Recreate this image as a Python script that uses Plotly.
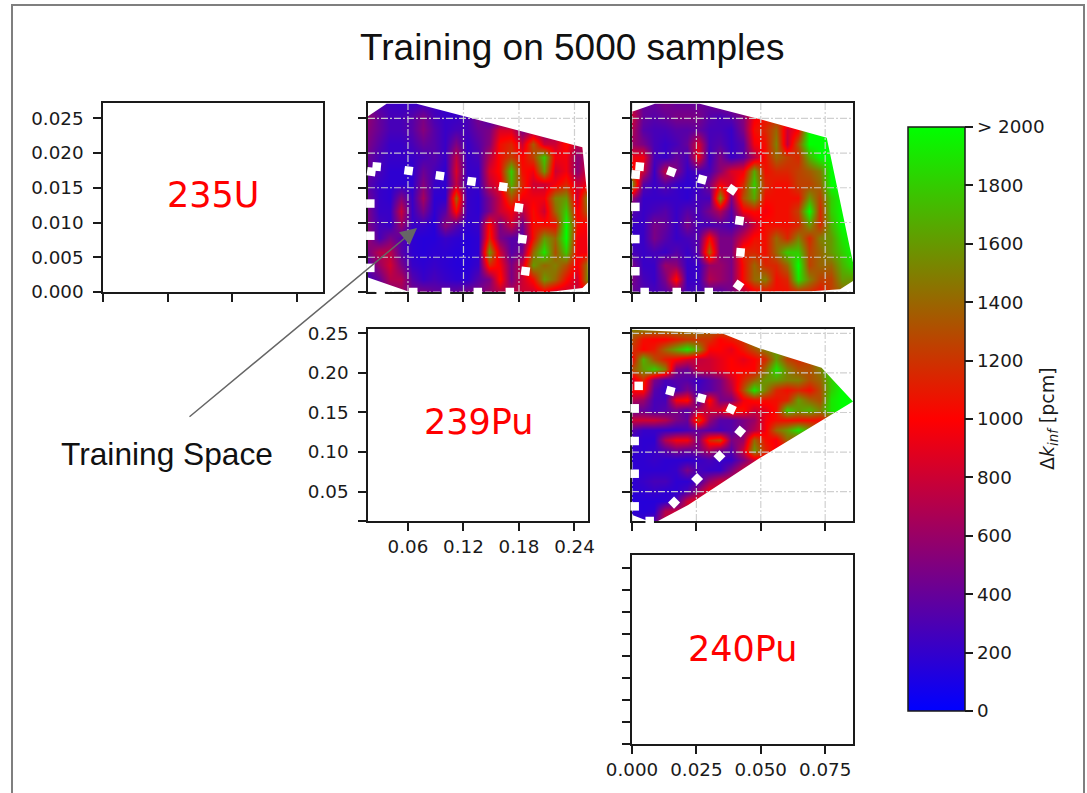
import numpy as np
import plotly.graph_objects as go

W, H = 1087, 793
FONT = "DejaVu Sans"
INK = "#1a1a1a"

# ---------- data ----------
pu239_range = [0.0168, 0.2546]
u235_range = [0.0, 0.0272]
pu240_range = [0.0, 0.0858]
pu239_y_range = [0.013, 0.2554]

pu239_ticks = [0.06, 0.12, 0.18, 0.24]
pu240_ticks = [0.0, 0.025, 0.05, 0.075]
u235_ticks = [0.0, 0.005, 0.01, 0.015, 0.02, 0.025]
u235_labels = ["0.000", "0.005", "0.010", "0.015", "0.020", "0.025"]
pu239_y_ticks = [0.05, 0.10, 0.15, 0.20, 0.25]
u235_x_ticks = [0.0, 0.008, 0.016, 0.024]
pu240_y_ticks = [0.0, 0.01, 0.02, 0.03, 0.04, 0.05, 0.06, 0.07, 0.08]

cbar_ticks = [0, 200, 400, 600, 800, 1000, 1200, 1400, 1600, 1800, 2000]
cbar_labels = ["0", "200", "400", "600", "800", "1000", "1200", "1400", "1600", "1800", "> 2000"]

# rows listed from the top of each panel downward
z_u235_pu239 = [
    [420,300,240,220,220,240,240,200,200,200,200,200,200,240,340,450,600,700,800,800,800],
    [560,400,280,280,340,480,280,220,220,280,480,280,220,220,280,400,550,700,800,800,800],
    [520,400,280,280,340,520,340,220,280,280,400,480,850,850,480,620,500,620,800,950,800],
    [480,340,220,220,280,400,340,220,500,220,340,520,1050,1150,800,1350,800,800,1050,700,950],
    [420,280,220,220,220,280,340,220,750,220,280,700,1050,1250,1000,1250,1800,950,950,550,700],
    [420,280,180,180,180,420,280,180,850,220,220,850,1050,1800,1050,950,1600,800,950,550,850],
    [340,220,180,180,180,520,220,180,750,220,220,750,950,1700,1150,800,800,950,1150,800,950],
    [420,220,180,520,220,650,180,180,1400,220,180,480,800,1300,950,950,950,1500,1600,800,1600],
    [480,220,220,780,220,480,180,340,1050,220,180,480,800,950,700,1050,800,1400,1800,950,1400],
    [480,280,220,600,220,220,150,550,340,180,220,1050,480,800,420,1050,1050,1050,2000,1050,950],
    [600,280,480,340,180,150,150,220,180,150,180,1150,480,340,340,1050,1600,1400,2000,950,950],
    [480,720,720,340,180,150,180,180,150,150,180,1600,800,340,480,1400,1900,1300,1800,950,950],
    [340,600,820,480,220,180,220,180,150,150,220,1150,950,480,800,1600,1400,1500,1300,950,1500],
    [280,400,700,700,340,220,280,220,180,180,340,480,1050,480,800,1050,1600,1400,1050,800,1600],
    [340,480,480,600,480,480,400,400,400,480,480,600,700,700,800,800,950,800,800,800,950],
]

z_u235_pu240 = [
    [700,400,400,480,400,400,400,400,480,520,600,800,950,1050,1150,1250,1600,1900,2000,2000,2000],
    [800,400,340,400,480,480,480,340,280,340,520,950,1050,1150,1250,1500,1900,2000,2000,2000,2000],
    [700,340,280,280,340,340,400,280,280,220,480,1050,1150,1400,800,1000,2000,2000,2000,2000,2000],
    [600,480,280,220,280,400,850,280,340,220,340,950,1050,1500,750,1350,2000,2000,2000,2000,2000],
    [950,950,280,220,400,280,950,220,500,220,340,700,1050,1400,1250,1150,1700,2000,2000,2000,2000],
    [1050,800,220,750,500,220,280,280,550,850,950,1650,1050,1150,1150,1250,1350,1500,2000,2000,2000],
    [1600,340,220,340,220,180,220,480,950,800,1150,1800,1150,1050,1050,1250,1250,1400,2000,2000,2000],
    [600,220,220,220,220,180,280,280,1600,480,1300,1650,1050,1050,1050,1050,1600,1250,1800,2000,2000],
    [340,220,280,340,220,340,280,480,700,340,950,1050,950,1050,1050,1250,2000,1150,1800,2000,2000],
    [220,220,480,400,220,480,280,280,340,280,480,800,1050,1050,1050,1150,1600,1150,1700,2000,2000],
    [220,220,480,340,220,280,340,1050,480,480,800,1050,1050,1400,1150,1500,1150,1500,1600,1900,2000],
    [280,220,280,220,340,220,340,1400,480,480,1150,1150,1050,1400,1800,1800,1250,1400,1600,1800,2000],
    [480,220,220,600,550,220,220,600,600,480,1050,1400,1150,1150,1400,2000,1250,1400,1400,1700,1900],
    [480,280,220,480,1050,220,220,700,600,480,1050,1400,1500,1050,1150,1900,1500,1250,1250,1600,1600],
    [400,340,280,340,480,280,280,340,340,480,700,950,1050,1050,1050,1150,1150,1050,1250,1400,1500],
]

z_pu239_pu240 = [
    [1500,1500,1500,1500,1500,1500,1500,1400,1400,1400,1400,1500,1500,1600,1700,1700,1800,1900,2000,2000,2000],
    [1300,1050,1000,1000,1100,1200,1200,1200,1000,1100,1200,1600,1700,1800,1700,1800,1800,1900,2000,2000,2000],
    [1200,1000,1100,1400,1650,1900,1600,1000,1000,900,1100,1300,1500,1600,1500,1500,1600,1800,2000,2000,2000],
    [1000,1700,1300,1100,1000,850,750,800,900,1000,900,1000,1150,1600,1250,1150,1250,1600,2000,2000,2000],
    [1300,1600,1800,1500,520,420,800,800,900,1000,1000,1000,1400,1900,1500,1300,1300,1500,1900,2000,2000],
    [800,1150,480,280,340,340,220,340,480,800,1150,1400,1600,1600,1500,1500,1300,1400,1800,2000,2000],
    [1000,1050,340,220,280,480,280,340,480,700,1300,1900,1500,1150,1050,1150,1050,1300,1800,2000,2000],
    [700,600,280,280,950,1050,280,1050,480,480,950,1050,1050,1050,1150,1600,1400,1300,1900,2000,2000],
    [400,400,280,340,480,340,700,800,850,1150,1050,800,900,1050,1800,1600,1700,1500,1900,2000,2000],
    [800,800,800,700,480,400,1300,600,340,340,480,600,950,1050,1050,1050,1050,1050,1150,1250,1400],
    [340,220,220,220,220,280,400,340,280,340,480,700,950,1400,1600,1900,1600,1250,1150,1000,1000],
    [220,180,180,700,950,950,480,1150,1300,480,600,1400,1050,950,1400,1250,1050,950,950,800,800],
    [220,180,220,340,480,400,480,700,480,340,800,1600,1150,950,950,800,800,800,800,800,800],
    [180,180,220,180,180,180,220,280,220,220,480,800,950,800,800,800,800,800,800,800,800],
    [180,180,180,180,220,480,280,220,220,480,800,800,800,800,800,800,800,800,800,800,800],
    [180,220,280,280,180,180,280,600,800,800,800,800,800,800,800,800,800,800,800,800,800],
    [180,180,220,180,180,280,600,950,800,800,800,800,800,800,800,800,800,800,800,800,800],
    [150,150,150,180,280,800,950,800,800,800,800,800,800,800,800,800,800,800,800,800,800],
    [180,150,180,700,800,800,800,800,800,800,800,800,800,800,800,800,800,800,800,800,800],
    [220,220,340,800,800,800,800,800,800,800,800,800,800,800,800,800,800,800,800,800,800],
]

# edge of the sampled region, clockwise on screen from the lower left
hull_b_x = [0.0168, 0.0168, 0.0369, 0.0693, 0.2485, 0.2535, 0.2546, 0.2485, 0.2125, 0.0621, 0.0190]
hull_b_y = [0.00207, 0.02528, 0.0271, 0.0271, 0.02083, 0.01437, 0.00135, 0.00058, 0.0, 0.0, 0.00207]
hull_c_x = [0.0, 0.0, 0.0089, 0.0263, 0.0496, 0.0756, 0.0858, 0.0858, 0.0808, 0.0697, 0.0]
hull_c_y = [0.0, 0.02595, 0.0271, 0.0271, 0.02487, 0.02219, 0.00424, 0.00159, 0.00039, 0.0001, 0.0]
hull_e_x = [0.0, 0.0, 0.0354, 0.0496, 0.0736, 0.0858, 0.0490, 0.0218, 0.0101, 0.0062, 0.00039]
hull_e_y = [0.0224, 0.2545, 0.2494, 0.2309, 0.2064, 0.1640, 0.0912, 0.0332, 0.0130, 0.0130, 0.0203]

# training points
b_x = [0.0262,0.0204,0.0607,0.0945,0.1287,0.1629,0.1798,0.1837,0.1870,0.0193,0.0193,0.0193,0.0305,0.0657,0.1010,0.1355,0.1701]
b_y = [0.01804,0.01731,0.01746,0.01673,0.01591,0.01514,0.01215,0.00762,0.00299,0.01273,0.00810,0.00347,0,0,0,0,0]
c_x = [0.00298,0.00143,0.01529,0.02722,0.03888,0.04173,0.04212,0.04135,0.00130,0.00130,0.00130,0.00492,0.01737,0.02981]
c_y = [0.01804,0.01688,0.01731,0.01620,0.01471,0.01027,0.00569,0.00096,0.01225,0.00762,0.00299,0,0,0]
e_x = [0.00259,0.01491,0.02696,0.03849,0.04199,0.03396,0.02527,0.01633,0.00104,0.00104,0.00104,0.00104,0.00687]
e_y = [0.1836,0.1772,0.1681,0.1544,0.1260,0.0947,0.0659,0.0362,0.1553,0.1140,0.0727,0.0315,0.0130]

# ---------- styling (pixel boxes: left, top, right, bottom) ----------
b_angles = [5,8,8,8,8,8,8,8,8,0,0,0,0,0,0,0,0]
c_angles = [5,5,20,15,35,8,5,35,0,0,0,0,0,0]
e_angles = [0,15,15,25,40,45,45,45,0,0,0,0,0]
boxes = {
    "a": (103, 103, 323, 292),
    "b": (368, 103, 588, 292),
    "c": (632, 103, 853, 292),
    "d": (368, 329, 588, 521),
    "e": (632, 329, 853, 521),
    "f": (632, 555, 853, 744),
}
names = ["a", "b", "c", "d", "e", "f"]
colorscale = [[0, "rgb(0,0,255)"], [0.5, "rgb(255,0,0)"], [1, "rgb(0,255,0)"]]
tickfont = dict(family=FONT, size=18.3, color=INK)

fig = go.Figure()
layout = {}


def axis_pair(name, xr, yr, xt, yt, xlab=None, ylab=None):
    i = names.index(name) + 1
    l, t, r, b = boxes[name]
    common = dict(showgrid=False, zeroline=False, showline=True, mirror=True, linecolor=INK,
                  linewidth=1.5, ticks="outside", ticklen=8, tickwidth=1.5, tickcolor=INK,
                  tickfont=tickfont, layer="below traces", tickmode="array", fixedrange=True,
                  automargin=False)
    layout[f"xaxis{i}"] = dict(domain=[l / W, r / W], range=xr, anchor=f"y{i}", tickvals=xt,
                               ticktext=xlab if xlab else [""] * len(xt), **common)
    layout[f"yaxis{i}"] = dict(domain=[1 - b / H, 1 - t / H], range=yr, anchor=f"x{i}", tickvals=yt,
                               ticktext=ylab if ylab else [""] * len(yt), ticklabelstandoff=6, **common)
    return f"x{i}", f"y{i}"


def panel(name, xr, yr, xt, yt, z, hx, hy, px, py, angles, xlab=None, ylab=None):
    xa, ya = axis_pair(name, xr, yr, xt, yt, xlab, ylab)
    rows = z[::-1]
    fig.add_trace(go.Heatmap(z=rows, x=np.linspace(xr[0], xr[1], len(rows[0])),
                             y=np.linspace(yr[0], yr[1], len(rows)), coloraxis="coloraxis",
                             zsmooth="best", hoverinfo="skip", xaxis=xa, yaxis=ya))
    L, R = xr[0] - (xr[1] - xr[0]), xr[1] + (xr[1] - xr[0])
    B, T = yr[0] - (yr[1] - yr[0]), yr[1] + (yr[1] - yr[0])
    mx = [L, R, R, L, L] + list(hx) + [hx[0], L]
    my = [B, B, T, T, B] + list(hy) + [hy[0], B]
    fig.add_trace(go.Scatter(x=mx, y=my, mode="lines", fill="toself", fillcolor="white",
                             line=dict(width=0), hoverinfo="skip", showlegend=False, xaxis=xa, yaxis=ya))
    gx, gy = [], []
    for v in xt:
        gx += [v, v, None]
        gy += [yr[0], yr[1], None]
    for v in yt:
        gx += [xr[0], xr[1], None]
        gy += [v, v, None]
    fig.add_trace(go.Scatter(x=gx, y=gy, mode="lines", hoverinfo="skip", showlegend=False,
                             line=dict(color="rgba(205,205,205,0.95)", width=1.2, dash="7px,2px,2px,2px"),
                             xaxis=xa, yaxis=ya))
    fig.add_trace(go.Scatter(x=px, y=py, mode="markers", hoverinfo="skip", showlegend=False, cliponaxis=False,
                             marker=dict(symbol="square", size=8.5, color="white", angle=angles, line=dict(width=0)),
                             xaxis=xa, yaxis=ya))


axis_pair("a", u235_range, u235_range, u235_x_ticks, u235_ticks, None, u235_labels)
panel("b", pu239_range, u235_range, pu239_ticks, u235_ticks, z_u235_pu239, hull_b_x, hull_b_y, b_x, b_y, b_angles)
panel("c", pu240_range, u235_range, pu240_ticks, u235_ticks, z_u235_pu240, hull_c_x, hull_c_y, c_x, c_y, c_angles)
axis_pair("d", pu239_range, pu239_y_range, pu239_ticks, [pu239_y_range[0]] + pu239_y_ticks,
          ["0.06", "0.12", "0.18", "0.24"], [""] + ["0.05", "0.10", "0.15", "0.20", "0.25"])
panel("e", pu240_range, pu239_y_range, pu240_ticks, pu239_y_ticks, z_pu239_pu240, hull_e_x, hull_e_y, e_x, e_y, e_angles)
axis_pair("f", pu240_range, pu240_range, pu240_ticks, pu240_y_ticks,
          ["0.000", "0.025", "0.050", "0.075"], None)

# empty carrier so the empty panels keep their axes
for nm in ["a", "d", "f"]:
    i = names.index(nm) + 1
    fig.add_trace(go.Scatter(x=[None], y=[None], mode="markers", showlegend=False, hoverinfo="skip",
                             xaxis=f"x{i}", yaxis=f"y{i}"))

anns = []


def label(text, px, py, size, color, family, angle=0):
    anns.append(dict(text=text, x=px / W, y=1 - py / H, xref="paper", yref="paper", showarrow=False,
                     xanchor="center", yanchor="middle", textangle=angle,
                     font=dict(family=family, size=size, color=color)))


label("235U", 213, 195, 35, "#ff0000", FONT)
label("239Pu", 478, 422, 35, "#ff0000", FONT)
label("240Pu", 742, 649, 35, "#ff0000", FONT)
label("Training on 5000 samples", 572, 47, 37, "#111111", "Liberation Sans")
label("Training Space", 167, 454, 31.7, "#111111", "Liberation Sans")
label("\u0394<i>k</i><sub><i>inf</i></sub> [pcm]", 1048, 419, 19, INK, FONT, -90)
anns.append(dict(x=417 / W, y=1 - 228 / H, xref="paper", yref="paper", ax=188 - 417, ay=418 - 228,
                 axref="pixel", ayref="pixel", text="", showarrow=True, arrowhead=2, arrowsize=2.2,
                 arrowwidth=1.5, arrowcolor="#666666"))

fig.update_layout(
    width=W, height=H, margin=dict(l=0, r=0, t=0, b=0, autoexpand=False), paper_bgcolor="white", plot_bgcolor="white",
    showlegend=False, annotations=anns,
    coloraxis=dict(
        cmin=0, cmax=2000, colorscale=colorscale,
        colorbar=dict(
            thicknessmode="pixels", thickness=57, lenmode="pixels", len=584,
            x=908 / W, xanchor="left", y=1 - 419 / H, yanchor="middle", xpad=0, ypad=0,
            outlinecolor=INK, outlinewidth=1.5, ticks="outside", ticklen=8, tickwidth=1.5, tickcolor=INK,
            tickmode="array", tickvals=cbar_ticks, ticktext=cbar_labels, tickfont=tickfont,
        ),
    ),
    shapes=[dict(type="rect", xref="paper", yref="paper", x0=12 / W, x1=1084 / W, y0=-0.05, y1=1 - 5 / H,
                 line=dict(color="#7f7f7f", width=2), fillcolor="rgba(0,0,0,0)", layer="below")],
    **layout,
)

fig.write_html("out.html", config={"displayModeBar": False}, post_script="document.body.style.margin='0';")
